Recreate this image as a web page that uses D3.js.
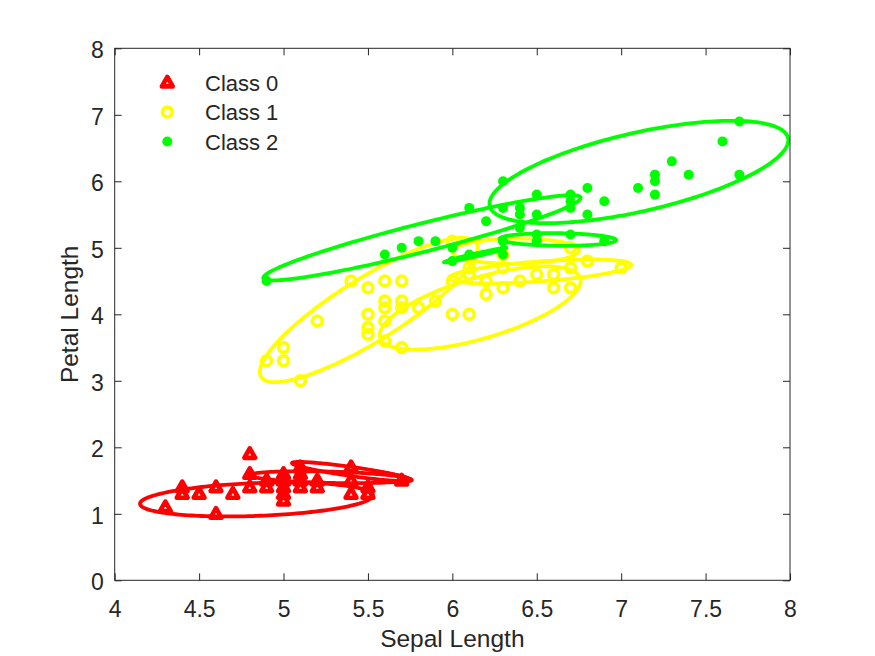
<!DOCTYPE html>
<html lang="en">
<head>
  <meta charset="UTF-8">
  <title>Sepal Length vs Petal Length</title>
  <script src="https://d3js.org/d3.v7.min.js"></script>
  <style>
    body { margin: 0; background: #fff; }
    svg text { font-family: "Liberation Sans", Arial, sans-serif; fill: #262626; }
  </style>
</head>
<body>
  <svg id="chart" width="875" height="656"></svg>

  <script>
    // Legend / series
    const classNames = ["Class 0", "Class 1", "Class 2"];
    const classColors = ["#ff0000", "#ffff00", "#00ff00"];
    const classMarkers = ["triangle", "circle", "dot"];

    const xTicks = [4, 4.5, 5, 5.5, 6, 6.5, 7, 7.5, 8];
    const yTicks = [0, 1, 2, 3, 4, 5, 6, 7, 8];

    // points: [sepal length, petal length]
    const class0Points = [
      [4.3, 1.1], [4.4, 1.3], [4.4, 1.4], [4.5, 1.3], [4.6, 1.0], [4.6, 1.4],
      [4.7, 1.3], [4.8, 1.4], [4.8, 1.6], [4.8, 1.9], [4.9, 1.4], [4.9, 1.5],
      [5.0, 1.2], [5.0, 1.3], [5.0, 1.4], [5.0, 1.5], [5.0, 1.6], [5.1, 1.4],
      [5.1, 1.5], [5.1, 1.6], [5.1, 1.7], [5.2, 1.4], [5.2, 1.5], [5.4, 1.3],
      [5.4, 1.5], [5.4, 1.7], [5.5, 1.3], [5.5, 1.4], [5.7, 1.5]
    ];
    const class1Points = [
      [4.9, 3.3], [5.0, 3.5], [5.0, 3.3], [5.1, 3.0], [5.2, 3.9], [5.4, 4.5],
      [5.5, 4.4], [5.5, 4.0], [5.5, 3.8], [5.5, 3.7], [5.6, 4.5], [5.6, 4.2],
      [5.6, 4.1], [5.6, 3.9], [5.6, 3.6], [5.7, 4.5], [5.7, 4.2], [5.7, 4.1],
      [5.7, 3.5], [5.8, 4.1], [5.9, 4.2], [6.0, 5.1], [6.0, 4.5], [6.0, 4.0],
      [6.1, 4.6], [6.1, 4.7], [6.1, 4.0], [6.2, 4.5], [6.2, 4.3], [6.3, 4.9],
      [6.3, 4.7], [6.3, 4.4], [6.4, 4.5], [6.5, 4.6], [6.6, 4.6], [6.6, 4.4],
      [6.7, 5.0], [6.7, 4.7], [6.7, 4.4], [6.8, 4.8], [7.0, 4.7]
    ];
    const class2Points = [
      [4.9, 4.5], [5.6, 4.9], [5.7, 5.0], [5.8, 5.1], [5.9, 5.1], [6.0, 4.8],
      [6.0, 5.0], [6.1, 4.9], [6.1, 5.6], [6.2, 5.4], [6.3, 4.9], [6.3, 5.1],
      [6.3, 5.6], [6.3, 6.0], [6.4, 5.3], [6.4, 5.5], [6.4, 5.6], [6.5, 5.1],
      [6.5, 5.2], [6.5, 5.5], [6.5, 5.8], [6.7, 5.2], [6.7, 5.6], [6.7, 5.7],
      [6.7, 5.8], [6.8, 5.5], [6.8, 5.9], [6.9, 5.1], [6.9, 5.7], [7.1, 5.9],
      [7.2, 5.8], [7.2, 6.0], [7.2, 6.1], [7.3, 6.3], [7.4, 6.1], [7.6, 6.6],
      [7.7, 6.1], [7.7, 6.9]
    ];

    // mixture component contours: [cx, cy, sx, sy, rho]
    const class0Ellipses = [
      [4.84, 1.215, 0.69, 0.255, 0.25],
      [5.405, 1.635, 0.355, 0.145, -0.88],
      [5.265, 1.55, 0.465, 0.09, -0.33]
    ];
    const class1Ellipses = [
      [5.505, 4.065, 0.645, 1.085, 0.86],
      [6.165, 4.095, 0.595, 0.625, 0.65],
      [6.52, 4.645, 0.54, 0.18, 0.55],
      [6.375, 4.95, 0.375, 0.19, 0.05]
    ];
    const class2Ellipses = [
      [7.105, 6.14, 0.885, 0.77, 0.62],
      [5.82, 5.15, 0.94, 0.64, 0.939],
      [6.625, 5.125, 0.345, 0.095, -0.1],
      [6.135, 4.89, 0.185, 0.11, 0.98],
      [6.3, 5.0, 0.004, 0.13, 0]
    ];

    const allPoints = [class0Points, class1Points, class2Points];
    const allEllipses = [class0Ellipses, class1Ellipses, class2Ellipses];

    const svg = d3.select("#chart");
    const margin = {top: 48.3, right: 85, bottom: 75.7, left: 114.7};
    const width = +svg.attr("width");
    const height = +svg.attr("height");
    const axisColor = "#262626";

    const x = d3.scaleLinear().domain([4, 8]).range([margin.left, width - margin.right]);
    const y = d3.scaleLinear().domain([0, 8]).range([height - margin.bottom, margin.top]);

    svg.append("defs").append("clipPath").attr("id", "plot-clip")
      .append("rect")
      .attr("x", margin.left).attr("y", margin.top)
      .attr("width", x(8) - x(4)).attr("height", y(0) - y(8));

    // marker symbols (MATLAB-like ^, o and .)
    function drawMarker(g, type, color) {
      if (type === "triangle") {
        g.append("path")
          .attr("d", "M0,-5.6L5.4,3.9L-5.4,3.9Z")
          .attr("fill", "none").attr("stroke", color)
          .attr("stroke-width", 4.6).attr("stroke-linejoin", "round");
      } else if (type === "circle") {
        g.append("circle").attr("r", 4.9)
          .attr("fill", "none").attr("stroke", color).attr("stroke-width", 3.7);
      } else {
        g.append("circle").attr("r", 5).attr("fill", color);
      }
    }

    function ellipsePoints(e) {
      const [cx, cy, sx, sy, rho] = e;
      const k = Math.sqrt(1 - rho * rho);
      return d3.range(0, 2 * Math.PI, Math.PI / 90).map(t =>
        [x(cx + sx * Math.cos(t)), y(cy + sy * (rho * Math.cos(t) + k * Math.sin(t)))]);
    }

    const line = d3.line().curve(d3.curveLinearClosed);
    const plot = svg.append("g").attr("clip-path", "url(#plot-clip)");

    allPoints.forEach((pts, c) => {
      pts.forEach(p => {
        const g = plot.append("g").attr("transform", `translate(${x(p[0])},${y(p[1])})`);
        drawMarker(g, classMarkers[c], classColors[c]);
      });
      plot.selectAll(null)
        .data(allEllipses[c])
        .enter()
        .append("path")
        .attr("d", e => line(ellipsePoints(e)))
        .attr("fill", "none")
        .attr("stroke", classColors[c])
        .attr("stroke-width", 3.8)
        .attr("stroke-linejoin", "round");
    });

    // axes with inward ticks on all four sides
    const tickLen = 7;
    const fontSize = 23;

    svg.append("g")
      .attr("transform", `translate(0,${y(0)})`)
      .call(d3.axisBottom(x).tickValues(xTicks).tickFormat(d3.format("")).tickSizeInner(-tickLen).tickSizeOuter(0).tickPadding(20.5));
    const yAxis = svg.append("g")
      .attr("transform", `translate(${x(4)},0)`)
      .call(d3.axisLeft(y).tickValues(yTicks).tickSizeInner(-tickLen).tickSizeOuter(0).tickPadding(11));
    svg.append("g")
      .attr("transform", `translate(0,${y(8)})`)
      .call(d3.axisTop(x).tickValues(xTicks).tickFormat("").tickSizeInner(-tickLen).tickSizeOuter(0));
    svg.append("g")
      .attr("transform", `translate(${x(8)},0)`)
      .call(d3.axisRight(y).tickValues(yTicks).tickFormat("").tickSizeInner(-tickLen).tickSizeOuter(0));

    svg.selectAll(".domain").remove();
    svg.selectAll(".tick line").attr("stroke", axisColor).attr("stroke-width", 1);
    svg.selectAll(".tick text").attr("font-size", fontSize).attr("fill", axisColor)
      .style("font-family", "'Liberation Sans', Arial, sans-serif");
    yAxis.selectAll(".tick text").attr("dy", "0.42em");

    svg.append("rect")
      .attr("x", x(4)).attr("y", y(8))
      .attr("width", x(8) - x(4)).attr("height", y(0) - y(8))
      .attr("fill", "none").attr("stroke", axisColor).attr("stroke-width", 1);

    // axis labels
    svg.append("text")
      .attr("x", (x(4) + x(8)) / 2).attr("y", 647)
      .attr("text-anchor", "middle").attr("font-size", 24.5)
      .text("Sepal Length");
    svg.append("text")
      .attr("transform", `translate(78,${(y(0) + y(8)) / 2}) rotate(-90)`)
      .attr("text-anchor", "middle").attr("font-size", 24.5)
      .text("Petal Length");

    // legend
    const legend = svg.append("g");
    classNames.forEach((name, i) => {
      const cy = 82.5 + i * 29.5;
      const g = legend.append("g").attr("transform", `translate(167.3,${cy})`);
      drawMarker(g, classMarkers[i], classColors[i]);
      legend.append("text")
        .attr("x", 205).attr("y", cy).attr("dy", "0.38em")
        .attr("font-size", 22).attr("fill", "#000")
        .text(name);
    });
  </script>
</body>
</html>
